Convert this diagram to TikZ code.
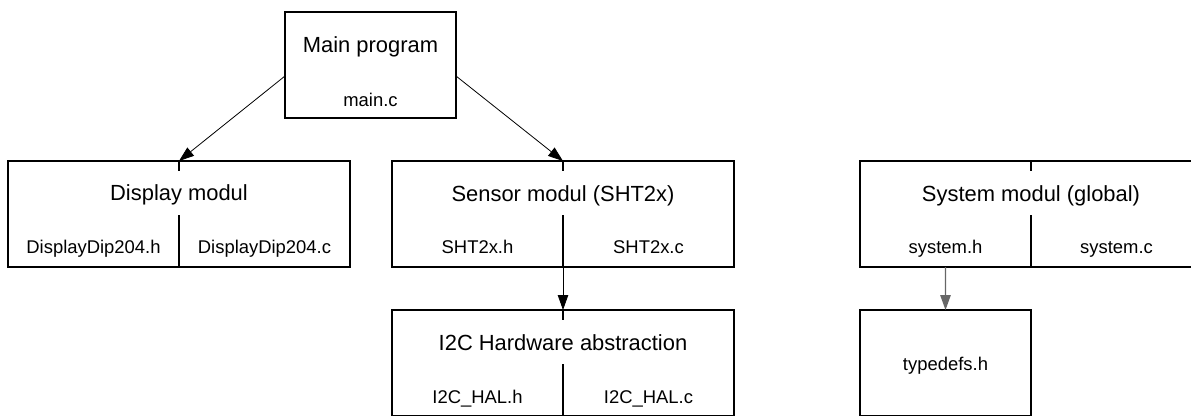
\documentclass[tikz,border=0pt]{standalone}
\usepackage{fontspec}
\setmainfont{Liberation Sans}
\usetikzlibrary{arrows.meta,calc}
\begin{document}
\begin{tikzpicture}[x=1bp,y=-1bp,
  box/.style={draw,line width=1.6bp,minimum width=342bp,minimum height=106bp,inner sep=0,outer sep=0},
  halfbox/.style={box,minimum width=171bp},
  div/.style={line width=1.6bp},
  conn/.style={line width=0.8bp,-{Triangle[length=15bp,width=10.5bp]}},
  grayconn/.style={conn,draw=black!60,line width=1.2bp},
  title/.style={font=\fontsize{22}{26}\selectfont,anchor=base,inner sep=0},
  file/.style={font=\fontsize{18.5}{22}\selectfont,anchor=base,inner sep=0}]
\useasboundingbox (0,0) rectangle (1191,415);
\clip (0,0) rectangle (1191,415);
% boxes
\node[halfbox] (main) at (370.5,65) {};
\node[box] (disp) at (179,214) {};
\node[box] (sens) at (563,214) {};
\node[box] (sys) at (1031,214) {};
\node[box] (i2c) at (563,363) {};
\node[halfbox] (typ) at (945.5,363) {};
% dividers
\foreach \b in {disp,sens,sys,i2c}{
  \draw[div] (\b.north) -- ++(0,10);
  \draw[div] ($(\b.north)+(0,54)$) -- (\b.south);
}
% texts
\node[title] (tmain) at (370.5,52) {Main program};
\node[file] (fmain) at (370.5,106) {main.c};
\node[title] (tdisp) at (179,200) {Display modul};
\node[file] (fdisph) at (93.5,253) {DisplayDip204.h};
\node[file] (fdispc) at (264.5,253) {DisplayDip204.c};
\node[title] (tsens) at (563,201) {Sensor modul (SHT2x)};
\node[file] (fsensh) at (477.5,253) {SHT2x.h};
\node[file] (fsensc) at (648.5,253) {SHT2x.c};
\node[title] (ti2c) at (563,350) {I2C Hardware abstraction};
\node[file] (fi2ch) at (477.5,403) {I2C\_HAL.h};
\node[file] (fi2cc) at (648.5,403) {I2C\_HAL.c};
\node[title] (tsys) at (1031,201) {System modul (global)};
\node[file] (fsysh) at (945.5,253) {system.h};
\node[file] (fsysc) at (1116.5,253) {system.c};
\node[file] (ftyp) at (945.5,370) {typedefs.h};
% connectors
\draw[conn] ([yshift=-11bp]main.west) -- (disp.north);
\draw[conn] ([yshift=-11bp]main.east) -- (sens.north);
\draw[conn] (sens.south) -- (i2c.north);
\draw[grayconn] ([xshift=-85.5bp]sys.south) -- (typ.north);
\end{tikzpicture}
\end{document}
